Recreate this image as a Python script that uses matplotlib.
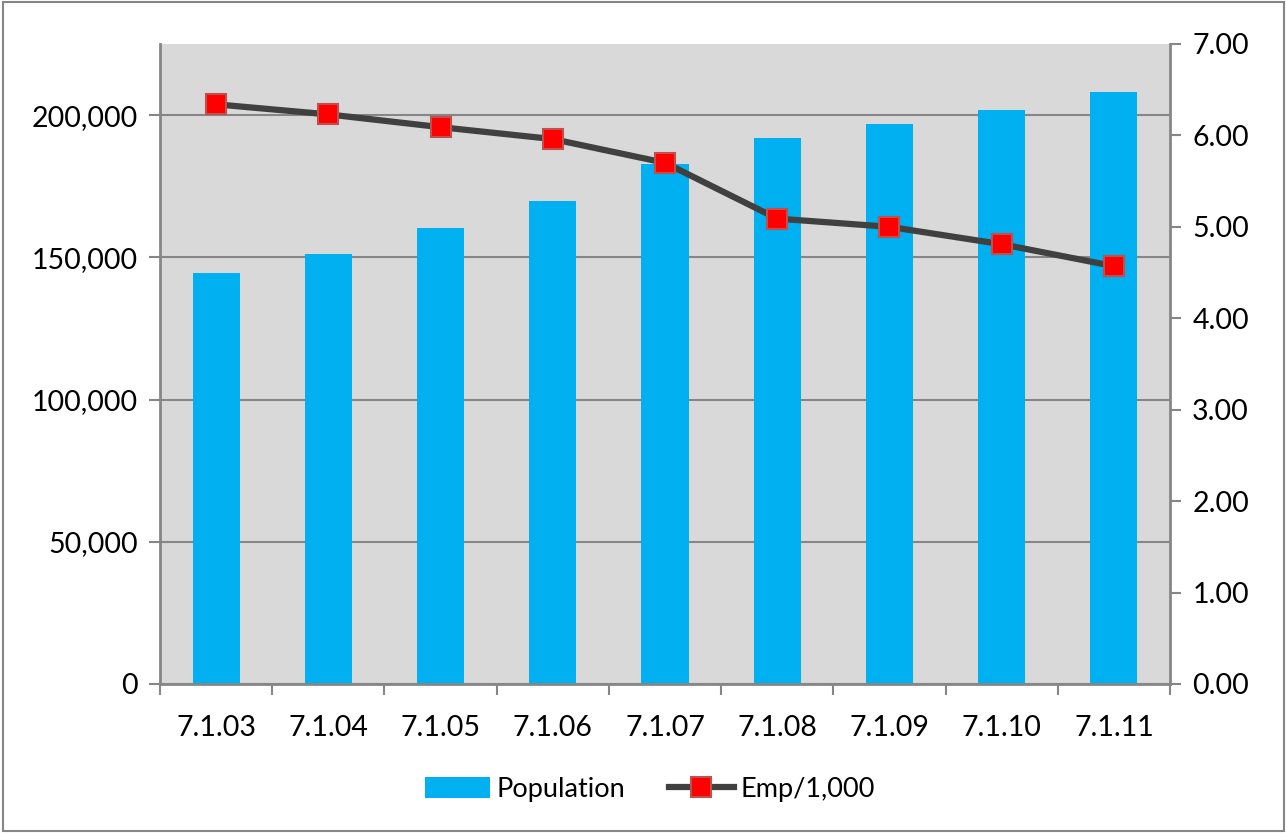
import matplotlib.pyplot as plt
import numpy as np
from matplotlib.patches import Rectangle
from matplotlib.ticker import FuncFormatter, FixedLocator

plt.rcParams['font.family'] = ['Lato', 'DejaVu Sans']

dates = ['7.1.03', '7.1.04', '7.1.05', '7.1.06', '7.1.07', '7.1.08', '7.1.09', '7.1.10', '7.1.11']
population = [144500, 151100, 160300, 169800, 182800, 191900, 196800, 201800, 208100]
emp_per_1000 = [6.34, 6.23, 6.09, 5.96, 5.70, 5.09, 5.00, 4.81, 4.57]

grey = '#868686'

fig = plt.figure(figsize=(12.87, 8.33), dpi=100)
fig.patches.append(Rectangle((0.002, 0.002), 0.996, 0.996, transform=fig.transFigure,
                             fill=False, edgecolor=grey, linewidth=1.5))

ax = fig.add_axes([0.1243, 0.1789, 0.7848, 0.7683])
ax.set_facecolor('#D9D9D9')
x = np.arange(len(dates))
bars = ax.bar(x, population, width=0.42, color='#00B0F0', zorder=2, label='Population')

ax.set_xlim(-0.5, len(dates) - 0.5)
ax.set_ylim(0, 225000)
ax.set_yticks(np.arange(0, 200001, 50000))
ax.yaxis.set_major_formatter(FuncFormatter(lambda v, p: f'{int(v):,}'))
ax.grid(axis='y', color=grey, linewidth=1.5, zorder=1)

# boundary ticks between categories, labels centred on each bar
ax.xaxis.set_major_locator(FixedLocator(np.arange(-0.5, len(dates), 1.0)))
ax.xaxis.set_major_formatter(FuncFormatter(lambda v, p: ''))
ax.xaxis.set_minor_locator(FixedLocator(x))
ax.set_xticklabels(dates, minor=True)
ax.tick_params(axis='x', which='major', length=8, width=1.5, color=grey, direction='out')
ax.tick_params(axis='x', which='minor', length=0, pad=22, labelsize=20.5)
ax.tick_params(axis='y', length=8, width=1.5, color=grey, labelsize=20.5, pad=8)

for s in ['top', 'right']:
    ax.spines[s].set_visible(False)
for s in ['left', 'bottom']:
    ax.spines[s].set_color(grey)
    ax.spines[s].set_linewidth(2)

ax2 = ax.twinx()
line, = ax2.plot(x, emp_per_1000, color='#404040', linewidth=4.5, marker='s', markersize=15,
                 markerfacecolor='#FF0000', markeredgecolor='#C0504D', markeredgewidth=1.5,
                 label='Emp/1,000', zorder=3)
ax2.set_ylim(0, 7)
ax2.set_yticks(np.arange(0, 7.01, 1))
ax2.yaxis.set_major_formatter(FuncFormatter(lambda v, p: f'{v:.2f}'))
ax2.tick_params(axis='y', length=8, width=1.5, color=grey, labelsize=20.5, pad=8)
for s in ['top', 'left', 'bottom']:
    ax2.spines[s].set_visible(False)
ax2.spines['right'].set_color(grey)
ax2.spines['right'].set_linewidth(2)

fig.legend([bars, line], ['Population', 'Emp/1,000'], loc='center', bbox_to_anchor=(0.505, 0.052),
           ncol=2, frameon=False, fontsize=19.5, handlelength=2.4, handleheight=0.8,
           columnspacing=1.6, handletextpad=0.25)

fig.savefig('out.png', dpi=100)
